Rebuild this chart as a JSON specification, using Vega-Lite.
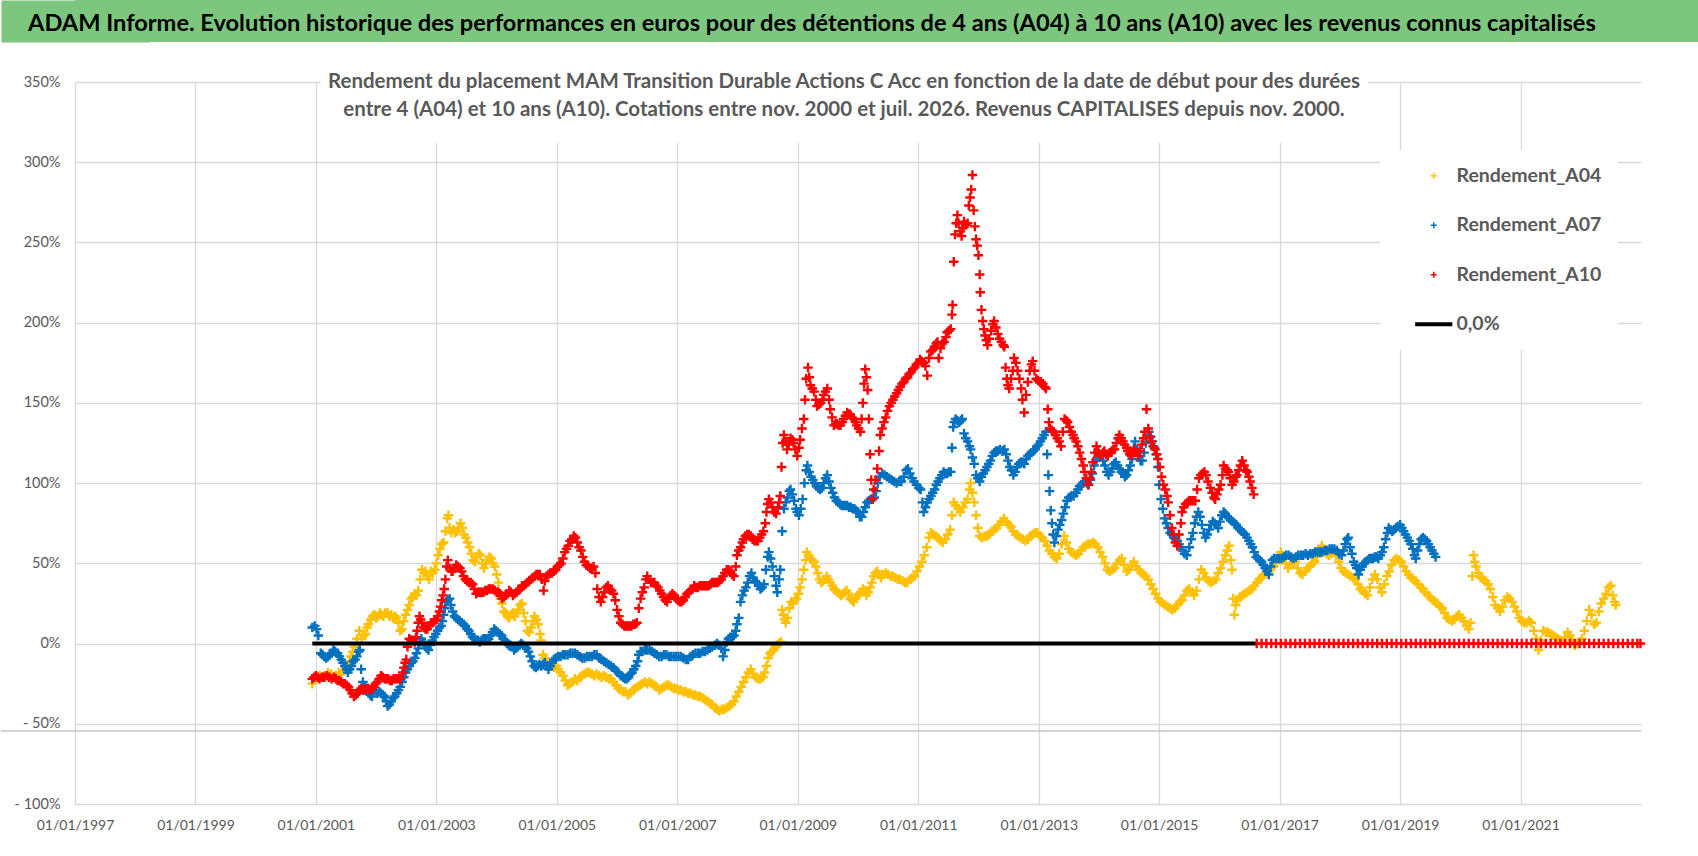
{
"$schema": "https://vega.github.io/schema/vega-lite/v6.json",
"padding": 0,
"background": "white",
"columns": 1,
"spacing": 29,
"datasets": {
"a04": [
{"t":2000.94,"v":-25},{"t":2000.98,"v":-22},{"t":2001.02,"v":-21},{"t":2001.06,"v":-20},{"t":2001.10,"v":-21},{"t":2001.15,"v":-20},{"t":2001.20,"v":-18},{"t":2001.25,"v":-19},{"t":2001.29,"v":-21},{"t":2001.33,"v":-20},{"t":2001.38,"v":-18},{"t":2001.42,"v":-19},{"t":2001.46,"v":-17},{"t":2001.50,"v":-15},{"t":2001.53,"v":-14},{"t":2001.56,"v":-11},{"t":2001.58,"v":-8},{"t":2001.61,"v":-5},{"t":2001.64,"v":-2},{"t":2001.68,"v":3},{"t":2001.72,"v":8},{"t":2001.76,"v":3},{"t":2001.79,"v":5},{"t":2001.82,"v":6},{"t":2001.85,"v":10},{"t":2001.87,"v":12},{"t":2001.91,"v":15},{"t":2001.94,"v":17},{"t":2001.97,"v":18},{"t":2002.00,"v":16},{"t":2002.03,"v":17},{"t":2002.06,"v":19},{"t":2002.09,"v":18},{"t":2002.12,"v":17},{"t":2002.15,"v":19},{"t":2002.19,"v":19},{"t":2002.22,"v":17},{"t":2002.25,"v":18},{"t":2002.28,"v":16},{"t":2002.31,"v":17},{"t":2002.34,"v":16},{"t":2002.37,"v":13},{"t":2002.40,"v":8},{"t":2002.43,"v":9},{"t":2002.46,"v":14},{"t":2002.49,"v":18},{"t":2002.52,"v":21},{"t":2002.55,"v":24},{"t":2002.58,"v":28},{"t":2002.61,"v":29},{"t":2002.64,"v":31},{"t":2002.67,"v":30},{"t":2002.70,"v":33},{"t":2002.73,"v":40},{"t":2002.76,"v":46},{"t":2002.79,"v":44},{"t":2002.82,"v":45},{"t":2002.85,"v":42},{"t":2002.88,"v":40},{"t":2002.91,"v":45},{"t":2002.94,"v":44},{"t":2002.97,"v":46},{"t":2003.00,"v":50},{"t":2003.03,"v":55},{"t":2003.06,"v":59},{"t":2003.09,"v":62},{"t":2003.12,"v":63},{"t":2003.15,"v":70},{"t":2003.18,"v":78},{"t":2003.20,"v":80},{"t":2003.22,"v":72},{"t":2003.25,"v":69},{"t":2003.28,"v":71},{"t":2003.31,"v":69},{"t":2003.34,"v":70},{"t":2003.37,"v":72},{"t":2003.40,"v":75},{"t":2003.43,"v":72},{"t":2003.46,"v":68},{"t":2003.49,"v":66},{"t":2003.52,"v":63},{"t":2003.55,"v":60},{"t":2003.58,"v":56},{"t":2003.61,"v":52},{"t":2003.64,"v":51},{"t":2003.67,"v":54},{"t":2003.70,"v":56},{"t":2003.73,"v":55},{"t":2003.76,"v":50},{"t":2003.79,"v":47},{"t":2003.82,"v":50},{"t":2003.85,"v":52},{"t":2003.88,"v":54},{"t":2003.91,"v":53},{"t":2003.94,"v":50},{"t":2003.97,"v":48},{"t":2004.00,"v":43},{"t":2004.03,"v":38},{"t":2004.06,"v":28},{"t":2004.09,"v":25},{"t":2004.12,"v":20},{"t":2004.15,"v":19},{"t":2004.18,"v":17},{"t":2004.21,"v":16},{"t":2004.24,"v":18},{"t":2004.27,"v":19},{"t":2004.30,"v":17},{"t":2004.33,"v":19},{"t":2004.36,"v":21},{"t":2004.39,"v":24},{"t":2004.42,"v":25},{"t":2004.45,"v":19},{"t":2004.48,"v":14},{"t":2004.51,"v":8},{"t":2004.54,"v":7},{"t":2004.57,"v":10},{"t":2004.60,"v":14},{"t":2004.63,"v":17},{"t":2004.66,"v":15},{"t":2004.69,"v":12},{"t":2004.72,"v":6},{"t":2004.74,"v":2},{"t":2004.77,"v":-7},{"t":2004.80,"v":-9},{"t":2004.84,"v":-11},{"t":2004.88,"v":-13},{"t":2004.91,"v":-14},{"t":2004.95,"v":-15},{"t":2004.99,"v":-14},{"t":2005.02,"v":-16},{"t":2005.06,"v":-18},{"t":2005.10,"v":-20},{"t":2005.14,"v":-23},{"t":2005.18,"v":-26},{"t":2005.22,"v":-25},{"t":2005.26,"v":-24},{"t":2005.30,"v":-22},{"t":2005.34,"v":-23},{"t":2005.38,"v":-21},{"t":2005.42,"v":-20},{"t":2005.46,"v":-19},{"t":2005.50,"v":-18},{"t":2005.54,"v":-18},{"t":2005.58,"v":-19},{"t":2005.62,"v":-20},{"t":2005.66,"v":-19},{"t":2005.70,"v":-20},{"t":2005.74,"v":-21},{"t":2005.78,"v":-20},{"t":2005.82,"v":-21},{"t":2005.86,"v":-22},{"t":2005.90,"v":-22},{"t":2005.94,"v":-24},{"t":2005.98,"v":-26},{"t":2006.02,"v":-28},{"t":2006.06,"v":-29},{"t":2006.10,"v":-30},{"t":2006.14,"v":-30},{"t":2006.18,"v":-32},{"t":2006.22,"v":-31},{"t":2006.26,"v":-29},{"t":2006.30,"v":-28},{"t":2006.34,"v":-27},{"t":2006.38,"v":-26},{"t":2006.42,"v":-25},{"t":2006.46,"v":-24},{"t":2006.50,"v":-25},{"t":2006.54,"v":-24},{"t":2006.58,"v":-25},{"t":2006.62,"v":-26},{"t":2006.66,"v":-27},{"t":2006.70,"v":-29},{"t":2006.74,"v":-28},{"t":2006.78,"v":-27},{"t":2006.82,"v":-26},{"t":2006.86,"v":-26},{"t":2006.90,"v":-27},{"t":2006.94,"v":-28},{"t":2006.98,"v":-28},{"t":2007.02,"v":-29},{"t":2007.06,"v":-29},{"t":2007.10,"v":-30},{"t":2007.14,"v":-30},{"t":2007.18,"v":-31},{"t":2007.22,"v":-31},{"t":2007.26,"v":-32},{"t":2007.30,"v":-32},{"t":2007.34,"v":-33},{"t":2007.38,"v":-33},{"t":2007.42,"v":-34},{"t":2007.46,"v":-35},{"t":2007.50,"v":-36},{"t":2007.54,"v":-37},{"t":2007.58,"v":-38},{"t":2007.62,"v":-40},{"t":2007.66,"v":-41},{"t":2007.70,"v":-42},{"t":2007.74,"v":-41},{"t":2007.78,"v":-41},{"t":2007.82,"v":-40},{"t":2007.86,"v":-39},{"t":2007.90,"v":-38},{"t":2007.94,"v":-36},{"t":2007.98,"v":-33},{"t":2008.02,"v":-30},{"t":2008.06,"v":-27},{"t":2008.10,"v":-24},{"t":2008.14,"v":-21},{"t":2008.18,"v":-18},{"t":2008.22,"v":-16},{"t":2008.26,"v":-19},{"t":2008.30,"v":-21},{"t":2008.34,"v":-22},{"t":2008.38,"v":-22},{"t":2008.42,"v":-21},{"t":2008.45,"v":-18},{"t":2008.48,"v":-14},{"t":2008.51,"v":-9},{"t":2008.54,"v":-6},{"t":2008.57,"v":-5},{"t":2008.60,"v":-4},{"t":2008.63,"v":-2},{"t":2008.66,"v":-1},{"t":2008.69,"v":0},{"t":2008.72,"v":1},{"t":2008.74,"v":21},{"t":2008.76,"v":18},{"t":2008.78,"v":15},{"t":2008.80,"v":13},{"t":2008.83,"v":16},{"t":2008.86,"v":22},{"t":2008.89,"v":26},{"t":2008.92,"v":25},{"t":2008.95,"v":27},{"t":2008.98,"v":28},{"t":2009.01,"v":31},{"t":2009.04,"v":35},{"t":2009.07,"v":40},{"t":2009.10,"v":46},{"t":2009.13,"v":52},{"t":2009.15,"v":57},{"t":2009.18,"v":55},{"t":2009.21,"v":53},{"t":2009.24,"v":52},{"t":2009.27,"v":51},{"t":2009.30,"v":48},{"t":2009.33,"v":44},{"t":2009.36,"v":40},{"t":2009.39,"v":38},{"t":2009.42,"v":39},{"t":2009.45,"v":40},{"t":2009.48,"v":42},{"t":2009.51,"v":40},{"t":2009.54,"v":38},{"t":2009.57,"v":36},{"t":2009.60,"v":34},{"t":2009.63,"v":33},{"t":2009.66,"v":32},{"t":2009.69,"v":31},{"t":2009.72,"v":30},{"t":2009.75,"v":31},{"t":2009.78,"v":32},{"t":2009.81,"v":33},{"t":2009.84,"v":31},{"t":2009.87,"v":28},{"t":2009.90,"v":27},{"t":2009.93,"v":26},{"t":2009.96,"v":28},{"t":2009.99,"v":30},{"t":2010.02,"v":31},{"t":2010.05,"v":32},{"t":2010.08,"v":34},{"t":2010.11,"v":33},{"t":2010.14,"v":30},{"t":2010.17,"v":32},{"t":2010.20,"v":35},{"t":2010.23,"v":38},{"t":2010.26,"v":42},{"t":2010.29,"v":44},{"t":2010.32,"v":45},{"t":2010.35,"v":43},{"t":2010.38,"v":41},{"t":2010.42,"v":43},{"t":2010.46,"v":44},{"t":2010.50,"v":43},{"t":2010.54,"v":42},{"t":2010.58,"v":42},{"t":2010.62,"v":41},{"t":2010.66,"v":40},{"t":2010.70,"v":40},{"t":2010.74,"v":39},{"t":2010.78,"v":38},{"t":2010.82,"v":38},{"t":2010.86,"v":40},{"t":2010.90,"v":41},{"t":2010.94,"v":42},{"t":2010.98,"v":45},{"t":2011.02,"v":48},{"t":2011.06,"v":51},{"t":2011.10,"v":55},{"t":2011.14,"v":60},{"t":2011.18,"v":66},{"t":2011.21,"v":69},{"t":2011.25,"v":68},{"t":2011.29,"v":67},{"t":2011.33,"v":66},{"t":2011.37,"v":64},{"t":2011.41,"v":63},{"t":2011.45,"v":65},{"t":2011.49,"v":68},{"t":2011.53,"v":71},{"t":2011.56,"v":80},{"t":2011.59,"v":88},{"t":2011.62,"v":86},{"t":2011.66,"v":84},{"t":2011.70,"v":82},{"t":2011.74,"v":85},{"t":2011.78,"v":88},{"t":2011.82,"v":90},{"t":2011.85,"v":96},{"t":2011.87,"v":100},{"t":2011.90,"v":94},{"t":2011.93,"v":88},{"t":2011.96,"v":80},{"t":2011.99,"v":72},{"t":2012.02,"v":67},{"t":2012.06,"v":66},{"t":2012.10,"v":67},{"t":2012.14,"v":67},{"t":2012.18,"v":68},{"t":2012.22,"v":70},{"t":2012.26,"v":71},{"t":2012.30,"v":72},{"t":2012.34,"v":74},{"t":2012.38,"v":76},{"t":2012.42,"v":78},{"t":2012.46,"v":76},{"t":2012.50,"v":74},{"t":2012.54,"v":73},{"t":2012.58,"v":70},{"t":2012.62,"v":68},{"t":2012.66,"v":67},{"t":2012.70,"v":66},{"t":2012.74,"v":65},{"t":2012.78,"v":64},{"t":2012.82,"v":65},{"t":2012.86,"v":67},{"t":2012.90,"v":68},{"t":2012.94,"v":69},{"t":2012.98,"v":69},{"t":2013.02,"v":67},{"t":2013.06,"v":66},{"t":2013.10,"v":64},{"t":2013.14,"v":61},{"t":2013.18,"v":58},{"t":2013.22,"v":56},{"t":2013.26,"v":54},{"t":2013.30,"v":53},{"t":2013.34,"v":56},{"t":2013.38,"v":62},{"t":2013.42,"v":67},{"t":2013.46,"v":63},{"t":2013.50,"v":59},{"t":2013.54,"v":57},{"t":2013.58,"v":56},{"t":2013.62,"v":55},{"t":2013.66,"v":56},{"t":2013.70,"v":58},{"t":2013.74,"v":60},{"t":2013.78,"v":61},{"t":2013.82,"v":62},{"t":2013.86,"v":62},{"t":2013.90,"v":63},{"t":2013.94,"v":62},{"t":2013.98,"v":60},{"t":2014.02,"v":57},{"t":2014.06,"v":54},{"t":2014.10,"v":50},{"t":2014.14,"v":46},{"t":2014.18,"v":45},{"t":2014.22,"v":46},{"t":2014.26,"v":47},{"t":2014.30,"v":50},{"t":2014.34,"v":52},{"t":2014.38,"v":53},{"t":2014.42,"v":49},{"t":2014.46,"v":45},{"t":2014.50,"v":46},{"t":2014.54,"v":49},{"t":2014.58,"v":51},{"t":2014.62,"v":48},{"t":2014.66,"v":46},{"t":2014.70,"v":44},{"t":2014.74,"v":43},{"t":2014.78,"v":42},{"t":2014.82,"v":40},{"t":2014.86,"v":37},{"t":2014.90,"v":34},{"t":2014.94,"v":31},{"t":2014.98,"v":28},{"t":2015.02,"v":26},{"t":2015.06,"v":25},{"t":2015.10,"v":24},{"t":2015.14,"v":23},{"t":2015.18,"v":22},{"t":2015.22,"v":21},{"t":2015.26,"v":22},{"t":2015.30,"v":24},{"t":2015.34,"v":26},{"t":2015.38,"v":27},{"t":2015.42,"v":30},{"t":2015.46,"v":33},{"t":2015.50,"v":34},{"t":2015.54,"v":32},{"t":2015.58,"v":30},{"t":2015.62,"v":33},{"t":2015.66,"v":40},{"t":2015.70,"v":46},{"t":2015.74,"v":44},{"t":2015.78,"v":41},{"t":2015.82,"v":39},{"t":2015.86,"v":38},{"t":2015.90,"v":39},{"t":2015.94,"v":40},{"t":2015.98,"v":44},{"t":2016.02,"v":47},{"t":2016.06,"v":51},{"t":2016.10,"v":55},{"t":2016.13,"v":58},{"t":2016.16,"v":61},{"t":2016.19,"v":52},{"t":2016.21,"v":46},{"t":2016.23,"v":28},{"t":2016.25,"v":18},{"t":2016.27,"v":24},{"t":2016.30,"v":27},{"t":2016.34,"v":29},{"t":2016.38,"v":30},{"t":2016.42,"v":31},{"t":2016.46,"v":32},{"t":2016.50,"v":33},{"t":2016.54,"v":34},{"t":2016.58,"v":36},{"t":2016.62,"v":38},{"t":2016.66,"v":40},{"t":2016.70,"v":41},{"t":2016.74,"v":43},{"t":2016.78,"v":44},{"t":2016.82,"v":45},{"t":2016.86,"v":47},{"t":2016.90,"v":48},{"t":2016.94,"v":50},{"t":2016.98,"v":53},{"t":2017.02,"v":57},{"t":2017.06,"v":54},{"t":2017.10,"v":50},{"t":2017.14,"v":47},{"t":2017.18,"v":49},{"t":2017.22,"v":50},{"t":2017.26,"v":51},{"t":2017.30,"v":47},{"t":2017.34,"v":44},{"t":2017.38,"v":43},{"t":2017.42,"v":45},{"t":2017.46,"v":47},{"t":2017.50,"v":48},{"t":2017.54,"v":50},{"t":2017.58,"v":51},{"t":2017.62,"v":54},{"t":2017.66,"v":58},{"t":2017.70,"v":61},{"t":2017.74,"v":58},{"t":2017.78,"v":56},{"t":2017.82,"v":55},{"t":2017.86,"v":56},{"t":2017.90,"v":57},{"t":2017.94,"v":55},{"t":2017.98,"v":51},{"t":2018.02,"v":47},{"t":2018.06,"v":45},{"t":2018.10,"v":44},{"t":2018.14,"v":43},{"t":2018.18,"v":42},{"t":2018.22,"v":41},{"t":2018.26,"v":40},{"t":2018.30,"v":37},{"t":2018.34,"v":34},{"t":2018.38,"v":33},{"t":2018.42,"v":31},{"t":2018.46,"v":30},{"t":2018.50,"v":35},{"t":2018.54,"v":40},{"t":2018.58,"v":43},{"t":2018.62,"v":40},{"t":2018.66,"v":35},{"t":2018.70,"v":32},{"t":2018.74,"v":37},{"t":2018.78,"v":42},{"t":2018.82,"v":45},{"t":2018.86,"v":49},{"t":2018.90,"v":52},{"t":2018.94,"v":53},{"t":2018.98,"v":52},{"t":2019.02,"v":51},{"t":2019.06,"v":48},{"t":2019.10,"v":45},{"t":2019.14,"v":43},{"t":2019.18,"v":41},{"t":2019.22,"v":40},{"t":2019.26,"v":39},{"t":2019.30,"v":37},{"t":2019.34,"v":35},{"t":2019.38,"v":34},{"t":2019.42,"v":32},{"t":2019.46,"v":30},{"t":2019.50,"v":29},{"t":2019.54,"v":27},{"t":2019.58,"v":26},{"t":2019.62,"v":25},{"t":2019.66,"v":23},{"t":2019.70,"v":22},{"t":2019.74,"v":19},{"t":2019.78,"v":16},{"t":2019.82,"v":15},{"t":2019.86,"v":14},{"t":2019.90,"v":15},{"t":2019.94,"v":17},{"t":2019.98,"v":18},{"t":2020.02,"v":16},{"t":2020.06,"v":14},{"t":2020.10,"v":11},{"t":2020.14,"v":9},{"t":2020.17,"v":13},{"t":2020.20,"v":42},{"t":2020.22,"v":55},{"t":2020.24,"v":51},{"t":2020.26,"v":48},{"t":2020.30,"v":44},{"t":2020.34,"v":41},{"t":2020.38,"v":40},{"t":2020.42,"v":39},{"t":2020.46,"v":37},{"t":2020.50,"v":34},{"t":2020.54,"v":29},{"t":2020.58,"v":24},{"t":2020.62,"v":22},{"t":2020.66,"v":20},{"t":2020.70,"v":23},{"t":2020.74,"v":27},{"t":2020.78,"v":29},{"t":2020.82,"v":28},{"t":2020.86,"v":26},{"t":2020.90,"v":23},{"t":2020.94,"v":20},{"t":2020.98,"v":16},{"t":2021.02,"v":14},{"t":2021.06,"v":13},{"t":2021.10,"v":13},{"t":2021.14,"v":14},{"t":2021.18,"v":13},{"t":2021.22,"v":8},{"t":2021.26,"v":3},{"t":2021.30,"v":-4},{"t":2021.34,"v":2},{"t":2021.38,"v":8},{"t":2021.42,"v":7},{"t":2021.46,"v":7},{"t":2021.50,"v":6},{"t":2021.54,"v":5},{"t":2021.58,"v":4},{"t":2021.62,"v":3},{"t":2021.66,"v":2},{"t":2021.70,"v":1},{"t":2021.74,"v":4},{"t":2021.78,"v":7},{"t":2021.82,"v":5},{"t":2021.86,"v":2},{"t":2021.90,"v":-1},{"t":2021.94,"v":0},{"t":2021.98,"v":1},{"t":2022.02,"v":3},{"t":2022.06,"v":8},{"t":2022.10,"v":14},{"t":2022.14,"v":21},{"t":2022.18,"v":18},{"t":2022.22,"v":12},{"t":2022.26,"v":13},{"t":2022.30,"v":20},{"t":2022.34,"v":25},{"t":2022.38,"v":28},{"t":2022.42,"v":31},{"t":2022.46,"v":35},{"t":2022.50,"v":36},{"t":2022.53,"v":30},{"t":2022.56,"v":26},{"t":2022.58,"v":24}
],
"a07": [
{"t":2000.94,"v":10},{"t":2000.98,"v":11},{"t":2001.01,"v":9},{"t":2001.04,"v":5},{"t":2001.08,"v":-6},{"t":2001.11,"v":-7},{"t":2001.14,"v":-8},{"t":2001.17,"v":-9},{"t":2001.20,"v":-8},{"t":2001.23,"v":-7},{"t":2001.26,"v":-6},{"t":2001.29,"v":-4},{"t":2001.32,"v":-5},{"t":2001.36,"v":-6},{"t":2001.39,"v":-8},{"t":2001.42,"v":-10},{"t":2001.45,"v":-12},{"t":2001.48,"v":-14},{"t":2001.51,"v":-16},{"t":2001.53,"v":-18},{"t":2001.56,"v":-16},{"t":2001.59,"v":-14},{"t":2001.62,"v":-11},{"t":2001.65,"v":-10},{"t":2001.68,"v":-8},{"t":2001.71,"v":-5},{"t":2001.73,"v":-4},{"t":2001.75,"v":-16},{"t":2001.78,"v":-24},{"t":2001.81,"v":-27},{"t":2001.84,"v":-29},{"t":2001.87,"v":-30},{"t":2001.90,"v":-32},{"t":2001.93,"v":-33},{"t":2001.96,"v":-30},{"t":2001.99,"v":-29},{"t":2002.02,"v":-31},{"t":2002.05,"v":-30},{"t":2002.08,"v":-31},{"t":2002.11,"v":-32},{"t":2002.14,"v":-33},{"t":2002.17,"v":-36},{"t":2002.19,"v":-39},{"t":2002.22,"v":-38},{"t":2002.25,"v":-36},{"t":2002.28,"v":-34},{"t":2002.31,"v":-33},{"t":2002.34,"v":-31},{"t":2002.37,"v":-29},{"t":2002.40,"v":-27},{"t":2002.43,"v":-24},{"t":2002.46,"v":-21},{"t":2002.49,"v":-18},{"t":2002.52,"v":-16},{"t":2002.55,"v":-14},{"t":2002.58,"v":-12},{"t":2002.61,"v":-11},{"t":2002.64,"v":-9},{"t":2002.67,"v":-6},{"t":2002.70,"v":-3},{"t":2002.73,"v":1},{"t":2002.75,"v":3},{"t":2002.78,"v":1},{"t":2002.81,"v":-1},{"t":2002.84,"v":-3},{"t":2002.87,"v":-4},{"t":2002.90,"v":-1},{"t":2002.93,"v":2},{"t":2002.96,"v":4},{"t":2002.99,"v":6},{"t":2003.02,"v":8},{"t":2003.05,"v":10},{"t":2003.08,"v":11},{"t":2003.10,"v":14},{"t":2003.12,"v":18},{"t":2003.14,"v":22},{"t":2003.16,"v":26},{"t":2003.19,"v":27},{"t":2003.22,"v":28},{"t":2003.24,"v":24},{"t":2003.27,"v":20},{"t":2003.30,"v":17},{"t":2003.33,"v":16},{"t":2003.36,"v":15},{"t":2003.39,"v":14},{"t":2003.42,"v":13},{"t":2003.45,"v":12},{"t":2003.48,"v":11},{"t":2003.51,"v":9},{"t":2003.54,"v":8},{"t":2003.57,"v":6},{"t":2003.60,"v":4},{"t":2003.63,"v":3},{"t":2003.66,"v":2},{"t":2003.69,"v":2},{"t":2003.72,"v":1},{"t":2003.75,"v":2},{"t":2003.78,"v":3},{"t":2003.81,"v":3},{"t":2003.84,"v":2},{"t":2003.87,"v":3},{"t":2003.90,"v":5},{"t":2003.93,"v":7},{"t":2003.96,"v":9},{"t":2003.99,"v":8},{"t":2004.02,"v":7},{"t":2004.05,"v":6},{"t":2004.08,"v":5},{"t":2004.11,"v":3},{"t":2004.14,"v":2},{"t":2004.17,"v":0},{"t":2004.20,"v":-1},{"t":2004.23,"v":-1},{"t":2004.26,"v":-2},{"t":2004.29,"v":-4},{"t":2004.32,"v":-3},{"t":2004.35,"v":-2},{"t":2004.38,"v":-1},{"t":2004.41,"v":0},{"t":2004.44,"v":-1},{"t":2004.47,"v":-2},{"t":2004.50,"v":-3},{"t":2004.53,"v":-5},{"t":2004.56,"v":-8},{"t":2004.59,"v":-11},{"t":2004.62,"v":-14},{"t":2004.65,"v":-15},{"t":2004.68,"v":-14},{"t":2004.71,"v":-13},{"t":2004.74,"v":-14},{"t":2004.77,"v":-13},{"t":2004.80,"v":-12},{"t":2004.83,"v":-14},{"t":2004.86,"v":-16},{"t":2004.89,"v":-14},{"t":2004.92,"v":-12},{"t":2004.95,"v":-10},{"t":2004.98,"v":-9},{"t":2005.02,"v":-8},{"t":2005.06,"v":-8},{"t":2005.10,"v":-7},{"t":2005.14,"v":-7},{"t":2005.18,"v":-7},{"t":2005.22,"v":-6},{"t":2005.26,"v":-6},{"t":2005.30,"v":-6},{"t":2005.34,"v":-7},{"t":2005.38,"v":-8},{"t":2005.42,"v":-9},{"t":2005.46,"v":-9},{"t":2005.50,"v":-8},{"t":2005.54,"v":-8},{"t":2005.58,"v":-8},{"t":2005.62,"v":-7},{"t":2005.66,"v":-7},{"t":2005.70,"v":-9},{"t":2005.74,"v":-10},{"t":2005.78,"v":-11},{"t":2005.82,"v":-12},{"t":2005.86,"v":-13},{"t":2005.90,"v":-14},{"t":2005.94,"v":-15},{"t":2005.98,"v":-17},{"t":2006.02,"v":-18},{"t":2006.06,"v":-20},{"t":2006.10,"v":-21},{"t":2006.13,"v":-22},{"t":2006.16,"v":-22},{"t":2006.19,"v":-21},{"t":2006.22,"v":-19},{"t":2006.25,"v":-18},{"t":2006.28,"v":-16},{"t":2006.31,"v":-14},{"t":2006.34,"v":-11},{"t":2006.36,"v":-7},{"t":2006.39,"v":-5},{"t":2006.42,"v":-5},{"t":2006.46,"v":-4},{"t":2006.50,"v":-4},{"t":2006.54,"v":-4},{"t":2006.58,"v":-5},{"t":2006.62,"v":-6},{"t":2006.66,"v":-7},{"t":2006.70,"v":-8},{"t":2006.74,"v":-8},{"t":2006.78,"v":-7},{"t":2006.82,"v":-7},{"t":2006.86,"v":-8},{"t":2006.90,"v":-8},{"t":2006.94,"v":-8},{"t":2006.98,"v":-8},{"t":2007.02,"v":-8},{"t":2007.06,"v":-8},{"t":2007.10,"v":-9},{"t":2007.14,"v":-10},{"t":2007.18,"v":-10},{"t":2007.22,"v":-8},{"t":2007.26,"v":-7},{"t":2007.30,"v":-6},{"t":2007.34,"v":-6},{"t":2007.38,"v":-6},{"t":2007.42,"v":-5},{"t":2007.46,"v":-5},{"t":2007.50,"v":-4},{"t":2007.54,"v":-3},{"t":2007.58,"v":-2},{"t":2007.62,"v":-1},{"t":2007.66,"v":0},{"t":2007.70,"v":-1},{"t":2007.73,"v":-3},{"t":2007.76,"v":-8},{"t":2007.79,"v":-4},{"t":2007.82,"v":1},{"t":2007.85,"v":3},{"t":2007.88,"v":4},{"t":2007.91,"v":4},{"t":2007.94,"v":5},{"t":2007.97,"v":8},{"t":2007.99,"v":12},{"t":2008.02,"v":16},{"t":2008.05,"v":26},{"t":2008.08,"v":30},{"t":2008.11,"v":33},{"t":2008.14,"v":35},{"t":2008.17,"v":38},{"t":2008.20,"v":42},{"t":2008.23,"v":44},{"t":2008.26,"v":41},{"t":2008.29,"v":39},{"t":2008.32,"v":38},{"t":2008.35,"v":36},{"t":2008.38,"v":34},{"t":2008.41,"v":35},{"t":2008.44,"v":37},{"t":2008.47,"v":46},{"t":2008.50,"v":54},{"t":2008.52,"v":57},{"t":2008.55,"v":53},{"t":2008.58,"v":48},{"t":2008.61,"v":42},{"t":2008.64,"v":36},{"t":2008.66,"v":32},{"t":2008.69,"v":40},{"t":2008.71,"v":46},{"t":2008.74,"v":70},{"t":2008.77,"v":84},{"t":2008.80,"v":88},{"t":2008.83,"v":91},{"t":2008.86,"v":95},{"t":2008.88,"v":96},{"t":2008.91,"v":93},{"t":2008.94,"v":89},{"t":2008.97,"v":84},{"t":2008.99,"v":82},{"t":2009.02,"v":80},{"t":2009.05,"v":84},{"t":2009.08,"v":90},{"t":2009.11,"v":100},{"t":2009.14,"v":108},{"t":2009.16,"v":111},{"t":2009.19,"v":107},{"t":2009.22,"v":104},{"t":2009.25,"v":102},{"t":2009.28,"v":100},{"t":2009.31,"v":98},{"t":2009.34,"v":97},{"t":2009.37,"v":96},{"t":2009.40,"v":97},{"t":2009.43,"v":100},{"t":2009.46,"v":103},{"t":2009.49,"v":105},{"t":2009.52,"v":101},{"t":2009.55,"v":97},{"t":2009.58,"v":94},{"t":2009.61,"v":91},{"t":2009.64,"v":89},{"t":2009.67,"v":88},{"t":2009.70,"v":87},{"t":2009.73,"v":86},{"t":2009.76,"v":86},{"t":2009.79,"v":86},{"t":2009.82,"v":86},{"t":2009.85,"v":85},{"t":2009.88,"v":85},{"t":2009.91,"v":84},{"t":2009.94,"v":84},{"t":2009.97,"v":83},{"t":2010.00,"v":82},{"t":2010.03,"v":79},{"t":2010.06,"v":79},{"t":2010.09,"v":82},{"t":2010.12,"v":85},{"t":2010.15,"v":88},{"t":2010.18,"v":89},{"t":2010.21,"v":90},{"t":2010.24,"v":90},{"t":2010.27,"v":91},{"t":2010.30,"v":95},{"t":2010.33,"v":100},{"t":2010.36,"v":104},{"t":2010.40,"v":106},{"t":2010.44,"v":105},{"t":2010.48,"v":104},{"t":2010.52,"v":103},{"t":2010.56,"v":102},{"t":2010.60,"v":101},{"t":2010.64,"v":100},{"t":2010.68,"v":101},{"t":2010.72,"v":101},{"t":2010.76,"v":104},{"t":2010.80,"v":108},{"t":2010.83,"v":109},{"t":2010.86,"v":106},{"t":2010.90,"v":103},{"t":2010.93,"v":101},{"t":2010.97,"v":99},{"t":2011.01,"v":97},{"t":2011.04,"v":96},{"t":2011.07,"v":88},{"t":2011.09,"v":82},{"t":2011.12,"v":85},{"t":2011.15,"v":88},{"t":2011.18,"v":90},{"t":2011.21,"v":92},{"t":2011.24,"v":94},{"t":2011.27,"v":96},{"t":2011.30,"v":99},{"t":2011.33,"v":101},{"t":2011.36,"v":103},{"t":2011.39,"v":105},{"t":2011.42,"v":107},{"t":2011.45,"v":106},{"t":2011.48,"v":106},{"t":2011.51,"v":107},{"t":2011.54,"v":107},{"t":2011.56,"v":122},{"t":2011.58,"v":135},{"t":2011.60,"v":138},{"t":2011.62,"v":140},{"t":2011.65,"v":139},{"t":2011.68,"v":138},{"t":2011.71,"v":139},{"t":2011.73,"v":140},{"t":2011.76,"v":131},{"t":2011.79,"v":128},{"t":2011.82,"v":126},{"t":2011.85,"v":123},{"t":2011.87,"v":121},{"t":2011.90,"v":116},{"t":2011.93,"v":112},{"t":2011.96,"v":105},{"t":2011.99,"v":103},{"t":2012.02,"v":101},{"t":2012.05,"v":104},{"t":2012.08,"v":106},{"t":2012.11,"v":108},{"t":2012.14,"v":110},{"t":2012.17,"v":112},{"t":2012.20,"v":114},{"t":2012.23,"v":117},{"t":2012.26,"v":119},{"t":2012.29,"v":120},{"t":2012.32,"v":120},{"t":2012.36,"v":121},{"t":2012.40,"v":120},{"t":2012.43,"v":121},{"t":2012.46,"v":118},{"t":2012.49,"v":114},{"t":2012.52,"v":110},{"t":2012.55,"v":108},{"t":2012.58,"v":105},{"t":2012.61,"v":107},{"t":2012.64,"v":110},{"t":2012.67,"v":112},{"t":2012.70,"v":113},{"t":2012.73,"v":113},{"t":2012.76,"v":112},{"t":2012.79,"v":115},{"t":2012.82,"v":117},{"t":2012.85,"v":118},{"t":2012.88,"v":119},{"t":2012.91,"v":120},{"t":2012.94,"v":121},{"t":2012.97,"v":123},{"t":2013.00,"v":124},{"t":2013.03,"v":126},{"t":2013.06,"v":128},{"t":2013.09,"v":130},{"t":2013.12,"v":132},{"t":2013.14,"v":118},{"t":2013.16,"v":105},{"t":2013.18,"v":95},{"t":2013.20,"v":83},{"t":2013.22,"v":75},{"t":2013.24,"v":68},{"t":2013.26,"v":63},{"t":2013.29,"v":67},{"t":2013.32,"v":71},{"t":2013.35,"v":74},{"t":2013.38,"v":77},{"t":2013.41,"v":81},{"t":2013.44,"v":85},{"t":2013.47,"v":89},{"t":2013.50,"v":91},{"t":2013.54,"v":92},{"t":2013.58,"v":92},{"t":2013.62,"v":94},{"t":2013.65,"v":96},{"t":2013.68,"v":98},{"t":2013.71,"v":99},{"t":2013.74,"v":100},{"t":2013.77,"v":101},{"t":2013.80,"v":100},{"t":2013.83,"v":99},{"t":2013.86,"v":102},{"t":2013.89,"v":106},{"t":2013.92,"v":111},{"t":2013.95,"v":114},{"t":2013.98,"v":116},{"t":2014.01,"v":117},{"t":2014.04,"v":117},{"t":2014.07,"v":114},{"t":2014.10,"v":111},{"t":2014.13,"v":107},{"t":2014.16,"v":105},{"t":2014.19,"v":107},{"t":2014.22,"v":109},{"t":2014.25,"v":112},{"t":2014.28,"v":113},{"t":2014.31,"v":111},{"t":2014.34,"v":109},{"t":2014.37,"v":107},{"t":2014.40,"v":106},{"t":2014.43,"v":104},{"t":2014.46,"v":105},{"t":2014.49,"v":108},{"t":2014.52,"v":111},{"t":2014.55,"v":115},{"t":2014.58,"v":122},{"t":2014.60,"v":126},{"t":2014.63,"v":121},{"t":2014.66,"v":117},{"t":2014.69,"v":114},{"t":2014.72,"v":114},{"t":2014.75,"v":119},{"t":2014.78,"v":125},{"t":2014.81,"v":130},{"t":2014.83,"v":132},{"t":2014.86,"v":129},{"t":2014.89,"v":126},{"t":2014.92,"v":122},{"t":2014.95,"v":118},{"t":2014.98,"v":110},{"t":2015.00,"v":99},{"t":2015.03,"v":90},{"t":2015.06,"v":84},{"t":2015.09,"v":78},{"t":2015.12,"v":75},{"t":2015.15,"v":72},{"t":2015.18,"v":69},{"t":2015.21,"v":68},{"t":2015.24,"v":66},{"t":2015.27,"v":65},{"t":2015.30,"v":64},{"t":2015.33,"v":62},{"t":2015.36,"v":60},{"t":2015.39,"v":58},{"t":2015.42,"v":56},{"t":2015.46,"v":55},{"t":2015.50,"v":60},{"t":2015.53,"v":65},{"t":2015.56,"v":69},{"t":2015.59,"v":75},{"t":2015.62,"v":79},{"t":2015.65,"v":82},{"t":2015.68,"v":79},{"t":2015.71,"v":74},{"t":2015.74,"v":69},{"t":2015.77,"v":66},{"t":2015.80,"v":68},{"t":2015.83,"v":71},{"t":2015.86,"v":74},{"t":2015.89,"v":76},{"t":2015.92,"v":75},{"t":2015.95,"v":74},{"t":2015.98,"v":72},{"t":2016.01,"v":76},{"t":2016.04,"v":80},{"t":2016.07,"v":82},{"t":2016.10,"v":81},{"t":2016.13,"v":79},{"t":2016.16,"v":78},{"t":2016.19,"v":77},{"t":2016.22,"v":76},{"t":2016.25,"v":75},{"t":2016.28,"v":74},{"t":2016.31,"v":72},{"t":2016.34,"v":71},{"t":2016.37,"v":70},{"t":2016.40,"v":69},{"t":2016.43,"v":68},{"t":2016.46,"v":66},{"t":2016.49,"v":64},{"t":2016.52,"v":62},{"t":2016.55,"v":60},{"t":2016.58,"v":57},{"t":2016.61,"v":54},{"t":2016.64,"v":53},{"t":2016.67,"v":52},{"t":2016.70,"v":51},{"t":2016.73,"v":49},{"t":2016.76,"v":47},{"t":2016.79,"v":45},{"t":2016.82,"v":43},{"t":2016.85,"v":48},{"t":2016.88,"v":52},{"t":2016.91,"v":53},{"t":2016.95,"v":53},{"t":2016.99,"v":53},{"t":2017.03,"v":53},{"t":2017.07,"v":54},{"t":2017.11,"v":55},{"t":2017.15,"v":55},{"t":2017.19,"v":54},{"t":2017.23,"v":53},{"t":2017.27,"v":54},{"t":2017.31,"v":55},{"t":2017.35,"v":55},{"t":2017.39,"v":55},{"t":2017.43,"v":56},{"t":2017.47,"v":55},{"t":2017.51,"v":56},{"t":2017.55,"v":56},{"t":2017.59,"v":57},{"t":2017.63,"v":57},{"t":2017.67,"v":57},{"t":2017.71,"v":57},{"t":2017.75,"v":58},{"t":2017.79,"v":58},{"t":2017.83,"v":59},{"t":2017.87,"v":59},{"t":2017.91,"v":59},{"t":2017.95,"v":58},{"t":2017.99,"v":56},{"t":2018.03,"v":55},{"t":2018.06,"v":58},{"t":2018.09,"v":62},{"t":2018.12,"v":65},{"t":2018.14,"v":66},{"t":2018.17,"v":60},{"t":2018.20,"v":56},{"t":2018.23,"v":51},{"t":2018.26,"v":49},{"t":2018.28,"v":47},{"t":2018.31,"v":43},{"t":2018.34,"v":46},{"t":2018.37,"v":48},{"t":2018.40,"v":50},{"t":2018.43,"v":51},{"t":2018.46,"v":52},{"t":2018.49,"v":53},{"t":2018.52,"v":53},{"t":2018.55,"v":53},{"t":2018.58,"v":54},{"t":2018.61,"v":54},{"t":2018.64,"v":53},{"t":2018.67,"v":55},{"t":2018.70,"v":57},{"t":2018.73,"v":60},{"t":2018.76,"v":65},{"t":2018.79,"v":69},{"t":2018.81,"v":72},{"t":2018.84,"v":71},{"t":2018.87,"v":70},{"t":2018.90,"v":71},{"t":2018.93,"v":72},{"t":2018.96,"v":73},{"t":2019.00,"v":74},{"t":2019.03,"v":72},{"t":2019.06,"v":70},{"t":2019.09,"v":68},{"t":2019.12,"v":66},{"t":2019.15,"v":64},{"t":2019.18,"v":62},{"t":2019.21,"v":59},{"t":2019.24,"v":55},{"t":2019.26,"v":53},{"t":2019.29,"v":58},{"t":2019.32,"v":62},{"t":2019.35,"v":65},{"t":2019.38,"v":66},{"t":2019.41,"v":65},{"t":2019.44,"v":64},{"t":2019.47,"v":62},{"t":2019.50,"v":60},{"t":2019.53,"v":58},{"t":2019.56,"v":56},{"t":2019.59,"v":54}
],
"a10": [
{"t":2000.94,"v":-22},{"t":2000.97,"v":-21},{"t":2001.00,"v":-20},{"t":2001.03,"v":-21},{"t":2001.06,"v":-22},{"t":2001.10,"v":-21},{"t":2001.14,"v":-21},{"t":2001.18,"v":-20},{"t":2001.22,"v":-21},{"t":2001.26,"v":-22},{"t":2001.30,"v":-21},{"t":2001.33,"v":-22},{"t":2001.36,"v":-23},{"t":2001.39,"v":-23},{"t":2001.42,"v":-24},{"t":2001.45,"v":-25},{"t":2001.48,"v":-25},{"t":2001.51,"v":-26},{"t":2001.54,"v":-27},{"t":2001.57,"v":-29},{"t":2001.60,"v":-31},{"t":2001.63,"v":-33},{"t":2001.66,"v":-32},{"t":2001.69,"v":-31},{"t":2001.72,"v":-29},{"t":2001.75,"v":-28},{"t":2001.78,"v":-29},{"t":2001.81,"v":-29},{"t":2001.84,"v":-28},{"t":2001.87,"v":-28},{"t":2001.90,"v":-29},{"t":2001.93,"v":-28},{"t":2001.96,"v":-27},{"t":2001.99,"v":-25},{"t":2002.02,"v":-24},{"t":2002.05,"v":-22},{"t":2002.08,"v":-20},{"t":2002.11,"v":-21},{"t":2002.14,"v":-22},{"t":2002.17,"v":-22},{"t":2002.20,"v":-22},{"t":2002.23,"v":-23},{"t":2002.26,"v":-23},{"t":2002.29,"v":-22},{"t":2002.32,"v":-22},{"t":2002.35,"v":-22},{"t":2002.38,"v":-22},{"t":2002.41,"v":-22},{"t":2002.44,"v":-18},{"t":2002.46,"v":-15},{"t":2002.48,"v":-12},{"t":2002.50,"v":-10},{"t":2002.52,"v":-2},{"t":2002.55,"v":3},{"t":2002.58,"v":2},{"t":2002.61,"v":2},{"t":2002.64,"v":1},{"t":2002.66,"v":4},{"t":2002.68,"v":8},{"t":2002.70,"v":13},{"t":2002.72,"v":17},{"t":2002.74,"v":15},{"t":2002.76,"v":13},{"t":2002.79,"v":10},{"t":2002.82,"v":9},{"t":2002.85,"v":9},{"t":2002.88,"v":11},{"t":2002.91,"v":13},{"t":2002.94,"v":13},{"t":2002.97,"v":14},{"t":2003.00,"v":15},{"t":2003.02,"v":17},{"t":2003.05,"v":20},{"t":2003.07,"v":23},{"t":2003.09,"v":27},{"t":2003.11,"v":30},{"t":2003.13,"v":34},{"t":2003.15,"v":40},{"t":2003.17,"v":48},{"t":2003.19,"v":52},{"t":2003.22,"v":47},{"t":2003.25,"v":45},{"t":2003.27,"v":45},{"t":2003.30,"v":47},{"t":2003.33,"v":49},{"t":2003.36,"v":48},{"t":2003.39,"v":47},{"t":2003.42,"v":45},{"t":2003.45,"v":42},{"t":2003.48,"v":40},{"t":2003.51,"v":39},{"t":2003.54,"v":38},{"t":2003.57,"v":38},{"t":2003.60,"v":37},{"t":2003.63,"v":34},{"t":2003.66,"v":31},{"t":2003.69,"v":32},{"t":2003.72,"v":32},{"t":2003.75,"v":32},{"t":2003.78,"v":32},{"t":2003.81,"v":33},{"t":2003.84,"v":33},{"t":2003.87,"v":34},{"t":2003.90,"v":34},{"t":2003.94,"v":34},{"t":2003.97,"v":33},{"t":2004.00,"v":32},{"t":2004.03,"v":32},{"t":2004.06,"v":31},{"t":2004.09,"v":28},{"t":2004.12,"v":29},{"t":2004.15,"v":30},{"t":2004.18,"v":31},{"t":2004.21,"v":33},{"t":2004.24,"v":32},{"t":2004.27,"v":30},{"t":2004.30,"v":31},{"t":2004.33,"v":32},{"t":2004.36,"v":33},{"t":2004.39,"v":34},{"t":2004.42,"v":36},{"t":2004.45,"v":36},{"t":2004.48,"v":37},{"t":2004.51,"v":38},{"t":2004.54,"v":39},{"t":2004.57,"v":40},{"t":2004.60,"v":41},{"t":2004.63,"v":42},{"t":2004.66,"v":43},{"t":2004.69,"v":43},{"t":2004.72,"v":43},{"t":2004.75,"v":40},{"t":2004.78,"v":33},{"t":2004.80,"v":39},{"t":2004.83,"v":42},{"t":2004.86,"v":43},{"t":2004.89,"v":44},{"t":2004.92,"v":44},{"t":2004.95,"v":45},{"t":2004.98,"v":46},{"t":2005.01,"v":48},{"t":2005.04,"v":49},{"t":2005.07,"v":50},{"t":2005.10,"v":53},{"t":2005.13,"v":57},{"t":2005.16,"v":59},{"t":2005.19,"v":61},{"t":2005.22,"v":64},{"t":2005.25,"v":65},{"t":2005.28,"v":67},{"t":2005.31,"v":66},{"t":2005.34,"v":63},{"t":2005.37,"v":60},{"t":2005.40,"v":58},{"t":2005.43,"v":54},{"t":2005.46,"v":51},{"t":2005.49,"v":49},{"t":2005.52,"v":48},{"t":2005.55,"v":47},{"t":2005.58,"v":47},{"t":2005.61,"v":48},{"t":2005.64,"v":44},{"t":2005.67,"v":34},{"t":2005.70,"v":29},{"t":2005.73,"v":26},{"t":2005.76,"v":29},{"t":2005.79,"v":32},{"t":2005.82,"v":35},{"t":2005.85,"v":36},{"t":2005.88,"v":34},{"t":2005.91,"v":33},{"t":2005.94,"v":31},{"t":2005.97,"v":27},{"t":2006.00,"v":21},{"t":2006.03,"v":17},{"t":2006.06,"v":13},{"t":2006.09,"v":12},{"t":2006.12,"v":11},{"t":2006.15,"v":11},{"t":2006.18,"v":11},{"t":2006.21,"v":11},{"t":2006.24,"v":11},{"t":2006.27,"v":12},{"t":2006.30,"v":12},{"t":2006.33,"v":13},{"t":2006.36,"v":22},{"t":2006.39,"v":28},{"t":2006.42,"v":32},{"t":2006.45,"v":35},{"t":2006.48,"v":40},{"t":2006.50,"v":42},{"t":2006.53,"v":40},{"t":2006.56,"v":38},{"t":2006.59,"v":38},{"t":2006.62,"v":38},{"t":2006.65,"v":36},{"t":2006.68,"v":35},{"t":2006.71,"v":33},{"t":2006.74,"v":31},{"t":2006.77,"v":29},{"t":2006.80,"v":27},{"t":2006.83,"v":26},{"t":2006.86,"v":28},{"t":2006.89,"v":30},{"t":2006.92,"v":31},{"t":2006.95,"v":30},{"t":2006.98,"v":28},{"t":2007.01,"v":27},{"t":2007.04,"v":26},{"t":2007.07,"v":26},{"t":2007.10,"v":27},{"t":2007.13,"v":29},{"t":2007.16,"v":31},{"t":2007.19,"v":32},{"t":2007.22,"v":33},{"t":2007.25,"v":34},{"t":2007.28,"v":36},{"t":2007.31,"v":35},{"t":2007.34,"v":35},{"t":2007.37,"v":36},{"t":2007.40,"v":36},{"t":2007.43,"v":36},{"t":2007.46,"v":36},{"t":2007.49,"v":36},{"t":2007.52,"v":36},{"t":2007.55,"v":37},{"t":2007.58,"v":38},{"t":2007.61,"v":38},{"t":2007.64,"v":38},{"t":2007.67,"v":38},{"t":2007.70,"v":39},{"t":2007.73,"v":40},{"t":2007.76,"v":42},{"t":2007.79,"v":44},{"t":2007.82,"v":46},{"t":2007.85,"v":46},{"t":2007.88,"v":45},{"t":2007.91,"v":43},{"t":2007.94,"v":42},{"t":2007.97,"v":48},{"t":2007.99,"v":55},{"t":2008.02,"v":58},{"t":2008.05,"v":60},{"t":2008.08,"v":63},{"t":2008.10,"v":65},{"t":2008.13,"v":67},{"t":2008.16,"v":68},{"t":2008.19,"v":68},{"t":2008.22,"v":67},{"t":2008.25,"v":65},{"t":2008.28,"v":64},{"t":2008.31,"v":64},{"t":2008.34,"v":64},{"t":2008.37,"v":66},{"t":2008.40,"v":68},{"t":2008.43,"v":70},{"t":2008.46,"v":75},{"t":2008.48,"v":82},{"t":2008.50,"v":87},{"t":2008.52,"v":90},{"t":2008.55,"v":88},{"t":2008.58,"v":85},{"t":2008.61,"v":82},{"t":2008.64,"v":81},{"t":2008.67,"v":85},{"t":2008.69,"v":88},{"t":2008.71,"v":92},{"t":2008.73,"v":110},{"t":2008.75,"v":125},{"t":2008.77,"v":130},{"t":2008.80,"v":126},{"t":2008.82,"v":121},{"t":2008.85,"v":124},{"t":2008.88,"v":128},{"t":2008.91,"v":127},{"t":2008.93,"v":125},{"t":2008.96,"v":121},{"t":2008.99,"v":117},{"t":2009.02,"v":122},{"t":2009.04,"v":127},{"t":2009.07,"v":134},{"t":2009.10,"v":140},{"t":2009.12,"v":152},{"t":2009.14,"v":165},{"t":2009.17,"v":172},{"t":2009.19,"v":166},{"t":2009.21,"v":161},{"t":2009.24,"v":159},{"t":2009.27,"v":157},{"t":2009.30,"v":152},{"t":2009.32,"v":148},{"t":2009.35,"v":149},{"t":2009.38,"v":150},{"t":2009.41,"v":152},{"t":2009.43,"v":155},{"t":2009.46,"v":157},{"t":2009.49,"v":159},{"t":2009.52,"v":152},{"t":2009.54,"v":146},{"t":2009.57,"v":141},{"t":2009.60,"v":136},{"t":2009.63,"v":137},{"t":2009.65,"v":137},{"t":2009.68,"v":136},{"t":2009.71,"v":136},{"t":2009.74,"v":138},{"t":2009.76,"v":140},{"t":2009.79,"v":142},{"t":2009.82,"v":144},{"t":2009.85,"v":143},{"t":2009.87,"v":143},{"t":2009.90,"v":141},{"t":2009.93,"v":140},{"t":2009.96,"v":138},{"t":2009.98,"v":136},{"t":2010.01,"v":134},{"t":2010.04,"v":132},{"t":2010.06,"v":140},{"t":2010.08,"v":150},{"t":2010.10,"v":162},{"t":2010.12,"v":171},{"t":2010.14,"v":166},{"t":2010.16,"v":158},{"t":2010.18,"v":140},{"t":2010.20,"v":118},{"t":2010.22,"v":102},{"t":2010.24,"v":90},{"t":2010.26,"v":96},{"t":2010.29,"v":102},{"t":2010.32,"v":109},{"t":2010.35,"v":120},{"t":2010.37,"v":130},{"t":2010.40,"v":134},{"t":2010.43,"v":138},{"t":2010.46,"v":141},{"t":2010.49,"v":145},{"t":2010.52,"v":148},{"t":2010.55,"v":150},{"t":2010.58,"v":152},{"t":2010.61,"v":154},{"t":2010.64,"v":156},{"t":2010.67,"v":158},{"t":2010.70,"v":160},{"t":2010.73,"v":162},{"t":2010.76,"v":163},{"t":2010.79,"v":165},{"t":2010.82,"v":166},{"t":2010.85,"v":168},{"t":2010.88,"v":169},{"t":2010.91,"v":171},{"t":2010.94,"v":172},{"t":2010.97,"v":174},{"t":2011.00,"v":175},{"t":2011.03,"v":177},{"t":2011.06,"v":176},{"t":2011.09,"v":175},{"t":2011.12,"v":173},{"t":2011.15,"v":167},{"t":2011.18,"v":178},{"t":2011.21,"v":182},{"t":2011.24,"v":183},{"t":2011.27,"v":185},{"t":2011.30,"v":187},{"t":2011.32,"v":188},{"t":2011.34,"v":178},{"t":2011.37,"v":184},{"t":2011.40,"v":187},{"t":2011.43,"v":188},{"t":2011.46,"v":191},{"t":2011.48,"v":194},{"t":2011.51,"v":195},{"t":2011.54,"v":196},{"t":2011.56,"v":205},{"t":2011.57,"v":211},{"t":2011.59,"v":238},{"t":2011.61,"v":255},{"t":2011.63,"v":262},{"t":2011.65,"v":267},{"t":2011.67,"v":262},{"t":2011.70,"v":257},{"t":2011.72,"v":254},{"t":2011.74,"v":259},{"t":2011.76,"v":263},{"t":2011.79,"v":261},{"t":2011.82,"v":262},{"t":2011.84,"v":273},{"t":2011.86,"v":278},{"t":2011.88,"v":283},{"t":2011.90,"v":292},{"t":2011.92,"v":270},{"t":2011.94,"v":260},{"t":2011.96,"v":252},{"t":2011.98,"v":248},{"t":2012.00,"v":242},{"t":2012.02,"v":230},{"t":2012.03,"v":219},{"t":2012.05,"v":208},{"t":2012.07,"v":201},{"t":2012.09,"v":196},{"t":2012.11,"v":192},{"t":2012.13,"v":189},{"t":2012.15,"v":186},{"t":2012.18,"v":190},{"t":2012.21,"v":195},{"t":2012.24,"v":199},{"t":2012.26,"v":201},{"t":2012.29,"v":197},{"t":2012.32,"v":193},{"t":2012.35,"v":190},{"t":2012.38,"v":188},{"t":2012.41,"v":186},{"t":2012.43,"v":185},{"t":2012.45,"v":172},{"t":2012.47,"v":165},{"t":2012.49,"v":161},{"t":2012.51,"v":159},{"t":2012.54,"v":165},{"t":2012.57,"v":170},{"t":2012.59,"v":178},{"t":2012.62,"v":175},{"t":2012.65,"v":170},{"t":2012.68,"v":165},{"t":2012.71,"v":159},{"t":2012.73,"v":152},{"t":2012.76,"v":144},{"t":2012.79,"v":155},{"t":2012.82,"v":163},{"t":2012.85,"v":170},{"t":2012.88,"v":174},{"t":2012.90,"v":176},{"t":2012.93,"v":170},{"t":2012.96,"v":165},{"t":2012.99,"v":164},{"t":2013.02,"v":163},{"t":2013.04,"v":163},{"t":2013.07,"v":162},{"t":2013.10,"v":160},{"t":2013.12,"v":159},{"t":2013.15,"v":146},{"t":2013.17,"v":138},{"t":2013.19,"v":134},{"t":2013.22,"v":133},{"t":2013.25,"v":132},{"t":2013.28,"v":130},{"t":2013.31,"v":128},{"t":2013.34,"v":126},{"t":2013.37,"v":123},{"t":2013.40,"v":132},{"t":2013.43,"v":140},{"t":2013.46,"v":139},{"t":2013.48,"v":138},{"t":2013.51,"v":135},{"t":2013.54,"v":132},{"t":2013.57,"v":130},{"t":2013.59,"v":128},{"t":2013.62,"v":126},{"t":2013.65,"v":123},{"t":2013.68,"v":119},{"t":2013.71,"v":115},{"t":2013.74,"v":111},{"t":2013.76,"v":107},{"t":2013.79,"v":103},{"t":2013.82,"v":99},{"t":2013.85,"v":103},{"t":2013.87,"v":107},{"t":2013.90,"v":113},{"t":2013.93,"v":119},{"t":2013.96,"v":123},{"t":2013.99,"v":120},{"t":2014.02,"v":118},{"t":2014.04,"v":117},{"t":2014.07,"v":119},{"t":2014.09,"v":120},{"t":2014.12,"v":118},{"t":2014.15,"v":117},{"t":2014.18,"v":119},{"t":2014.21,"v":120},{"t":2014.24,"v":121},{"t":2014.26,"v":121},{"t":2014.29,"v":125},{"t":2014.32,"v":128},{"t":2014.34,"v":130},{"t":2014.37,"v":128},{"t":2014.40,"v":126},{"t":2014.43,"v":124},{"t":2014.46,"v":122},{"t":2014.48,"v":120},{"t":2014.51,"v":118},{"t":2014.54,"v":117},{"t":2014.57,"v":119},{"t":2014.59,"v":121},{"t":2014.62,"v":119},{"t":2014.65,"v":117},{"t":2014.68,"v":120},{"t":2014.71,"v":124},{"t":2014.74,"v":128},{"t":2014.76,"v":132},{"t":2014.79,"v":146},{"t":2014.82,"v":134},{"t":2014.85,"v":129},{"t":2014.87,"v":126},{"t":2014.90,"v":123},{"t":2014.93,"v":121},{"t":2014.96,"v":118},{"t":2014.98,"v":115},{"t":2015.01,"v":110},{"t":2015.04,"v":104},{"t":2015.07,"v":99},{"t":2015.10,"v":96},{"t":2015.13,"v":92},{"t":2015.15,"v":88},{"t":2015.18,"v":80},{"t":2015.21,"v":72},{"t":2015.24,"v":68},{"t":2015.27,"v":63},{"t":2015.30,"v":61},{"t":2015.33,"v":68},{"t":2015.36,"v":75},{"t":2015.38,"v":82},{"t":2015.41,"v":85},{"t":2015.44,"v":87},{"t":2015.47,"v":88},{"t":2015.50,"v":89},{"t":2015.53,"v":89},{"t":2015.56,"v":89},{"t":2015.60,"v":89},{"t":2015.63,"v":96},{"t":2015.66,"v":103},{"t":2015.69,"v":105},{"t":2015.72,"v":106},{"t":2015.75,"v":107},{"t":2015.78,"v":105},{"t":2015.81,"v":101},{"t":2015.85,"v":97},{"t":2015.88,"v":94},{"t":2015.91,"v":91},{"t":2015.93,"v":90},{"t":2015.96,"v":93},{"t":2015.99,"v":96},{"t":2016.02,"v":99},{"t":2016.05,"v":105},{"t":2016.07,"v":111},{"t":2016.10,"v":109},{"t":2016.13,"v":108},{"t":2016.15,"v":107},{"t":2016.18,"v":103},{"t":2016.21,"v":99},{"t":2016.24,"v":101},{"t":2016.27,"v":104},{"t":2016.29,"v":105},{"t":2016.32,"v":108},{"t":2016.35,"v":111},{"t":2016.38,"v":114},{"t":2016.41,"v":111},{"t":2016.44,"v":108},{"t":2016.46,"v":107},{"t":2016.49,"v":104},{"t":2016.51,"v":101},{"t":2016.54,"v":97},{"t":2016.57,"v":93},
{"t":2016.62,"v":0},{"t":2016.70,"v":0},{"t":2016.78,"v":0},{"t":2016.86,"v":0},{"t":2016.94,"v":0},{"t":2017.02,"v":0},{"t":2017.10,"v":0},{"t":2017.18,"v":0},{"t":2017.26,"v":0},{"t":2017.34,"v":0},{"t":2017.42,"v":0},{"t":2017.50,"v":0},{"t":2017.58,"v":0},{"t":2017.66,"v":0},{"t":2017.74,"v":0},{"t":2017.82,"v":0},{"t":2017.90,"v":0},{"t":2017.98,"v":0},{"t":2018.06,"v":0},{"t":2018.14,"v":0},{"t":2018.22,"v":0},{"t":2018.30,"v":0},{"t":2018.38,"v":0},{"t":2018.46,"v":0},{"t":2018.54,"v":0},{"t":2018.62,"v":0},{"t":2018.70,"v":0},{"t":2018.78,"v":0},{"t":2018.86,"v":0},{"t":2018.94,"v":0},{"t":2019.02,"v":0},{"t":2019.10,"v":0},{"t":2019.18,"v":0},{"t":2019.26,"v":0},{"t":2019.34,"v":0},{"t":2019.42,"v":0},{"t":2019.50,"v":0},{"t":2019.58,"v":0},{"t":2019.66,"v":0},{"t":2019.74,"v":0},{"t":2019.82,"v":0},{"t":2019.90,"v":0},{"t":2019.98,"v":0},{"t":2020.06,"v":0},{"t":2020.14,"v":0},{"t":2020.22,"v":0},{"t":2020.30,"v":0},{"t":2020.38,"v":0},{"t":2020.46,"v":0},{"t":2020.54,"v":0},{"t":2020.62,"v":0},{"t":2020.70,"v":0},{"t":2020.78,"v":0},{"t":2020.86,"v":0},{"t":2020.94,"v":0},{"t":2021.02,"v":0},{"t":2021.10,"v":0},{"t":2021.18,"v":0},{"t":2021.26,"v":0},{"t":2021.34,"v":0},{"t":2021.42,"v":0},{"t":2021.50,"v":0},{"t":2021.58,"v":0},{"t":2021.66,"v":0},{"t":2021.74,"v":0},{"t":2021.82,"v":0},{"t":2021.90,"v":0},{"t":2021.98,"v":0},{"t":2022.06,"v":0},{"t":2022.14,"v":0},{"t":2022.22,"v":0},{"t":2022.30,"v":0},{"t":2022.38,"v":0},{"t":2022.46,"v":0},{"t":2022.54,"v":0},{"t":2022.62,"v":0},{"t":2022.70,"v":0},{"t":2022.78,"v":0},{"t":2022.86,"v":0},{"t":2022.94,"v":0},{"t":2022.99,"v":0}
],
"zero": [{"t":2000.94,"v":0},{"t":2016.6,"v":0}]
},
"concat": [
{
"width": 1624,
"height": 42,
"view": {"fill": "#7dc67e", "stroke": null},
"title": {"text": "ADAM Informe. Evolution historique des performances en euros pour des détentions de 4 ans (A04) à 10 ans (A10) avec les revenus connus capitalisés", "anchor": "start", "frame": "group", "orient": "top", "offset": -36, "dx": -47, "font": "Lato", "fontSize": 23.6, "fontWeight": "bold", "color": "#000000"},
"data": {"values": []},
"mark": "point",
"encoding": {"y": {"datum": 0, "type": "quantitative", "axis": {"domain": true, "domainColor": "#7dc67e", "domainWidth": 148, "domainCap": "butt", "labels": false, "ticks": false, "grid": false, "title": null}}}
},
{
"width": 1566,
"height": 722,
"title": {"text": ["Rendement du placement MAM Transition Durable Actions C Acc en fonction de la date de début pour des durées", "entre 4 (A04) et 10 ans (A10). Cotations entre nov. 2000 et juil. 2026. Revenus CAPITALISES depuis nov. 2000."], "anchor": "middle", "frame": "group", "orient": "top", "offset": -46, "dx": -14, "font": "Lato", "fontSize": 20.5, "fontWeight": "bold", "color": "#595959", "lineHeight": 28},
"layer": [
{
"data": {"values": [{}]},
"mark": {"type": "rect", "color": "#ffffff", "clip": false},
"encoding": {"x": {"datum": 2001.08, "type": "quantitative", "scale": {"domain": [1997, 2023], "nice": false, "zero": false}}, "x2": {"datum": 2018.47}, "y": {"datum": 351, "type": "quantitative", "scale": {"domain": [-100, 350], "nice": false}}, "y2": {"datum": 312}}
},
{
"data": {"values": [{}]},
"mark": {"type": "rule", "color": "#c6c6c6", "strokeWidth": 1.5, "clip": false},
"encoding": {"y": {"datum": -54.5, "type": "quantitative"}, "x": {"datum": 1995.77, "type": "quantitative"}, "x2": {"datum": 2023}}
},
{
"data": {"name": "a04"},
"mark": {"type": "point", "filled": false, "size": 90, "strokeWidth": 2.4, "opacity": 1},
"encoding": {
"x": {"field": "t", "type": "quantitative", "axis": {"values": [1997,1999,2001,2003,2005,2007,2009,2011,2013,2015,2017,2019,2021], "labelExpr": "'01/01/' + datum.value", "labelFontSize": 14, "labelPadding": 14, "labelFlush": false, "labelOverlap": false, "title": null}},
"y": {"field": "v", "type": "quantitative", "axis": {"values": [-100,-50,0,50,100,150,200,250,300,350], "labelExpr": "datum.value < 0 ? '- ' + (-datum.value) + '%' : datum.value + '%'", "labelFontSize": 14.5, "labelPadding": 15, "title": null, "minExtent": 74, "maxExtent": 74}},
"color": {"datum": "Rendement_A04", "scale": {"domain": ["Rendement_A04", "Rendement_A07", "Rendement_A10", "0,0%"], "range": ["#FFC000", "#0070C0", "#FF0000", "#000000"]}, "legend": {"title": null, "orient": "none", "legendX": 1305, "legendY": 150}},
"shape": {"datum": "Rendement_A04", "scale": {"domain": ["Rendement_A04", "Rendement_A07", "Rendement_A10", "0,0%"], "range": ["M-1,0H1M0,-1V1", "M-1,0H1M0,-1V1", "M-1,0H1M0,-1V1", "M-6.2,-0.45H6.2M-6.2,-0.15H6.2M-6.2,0.15H6.2M-6.2,0.45H6.2"]}, "legend": {"title": null, "orient": "none", "legendX": 1305, "legendY": 150}}
}
},
{
"data": {"name": "a07"},
"mark": {"type": "point", "filled": false, "size": 90, "strokeWidth": 2.4, "opacity": 1},
"encoding": {
"x": {"field": "t", "type": "quantitative"},
"y": {"field": "v", "type": "quantitative"},
"color": {"datum": "Rendement_A07"},
"shape": {"datum": "Rendement_A07"}
}
},
{
"data": {"name": "a10"},
"mark": {"type": "point", "filled": false, "size": 90, "strokeWidth": 2.4, "opacity": 1},
"encoding": {
"x": {"field": "t", "type": "quantitative"},
"y": {"field": "v", "type": "quantitative"},
"color": {"datum": "Rendement_A10"},
"shape": {"datum": "Rendement_A10"}
}
},
{
"data": {"name": "zero"},
"mark": {"type": "line", "color": "#000000", "strokeWidth": 4},
"encoding": {
"x": {"field": "t", "type": "quantitative"},
"y": {"field": "v", "type": "quantitative"}
}
}
]
}
],
"config": {
"font": "Lato",
"view": {"stroke": null},
"axis": {"domain": false, "ticks": false, "grid": true, "gridColor": "#d9d9d9", "gridWidth": 1.3, "labelColor": "#595959", "labelFont": "Lato"},
"legend": {"labelFont": "Lato", "labelFontSize": 19.5, "labelFontWeight": "bold", "labelColor": "#595959", "symbolSize": 36, "symbolStrokeWidth": 1.5, "padding": 16, "symbolOffset": 28, "labelOffset": 13, "rowPadding": 28.5, "fillColor": "white", "labelLimit": 300}
}
}
